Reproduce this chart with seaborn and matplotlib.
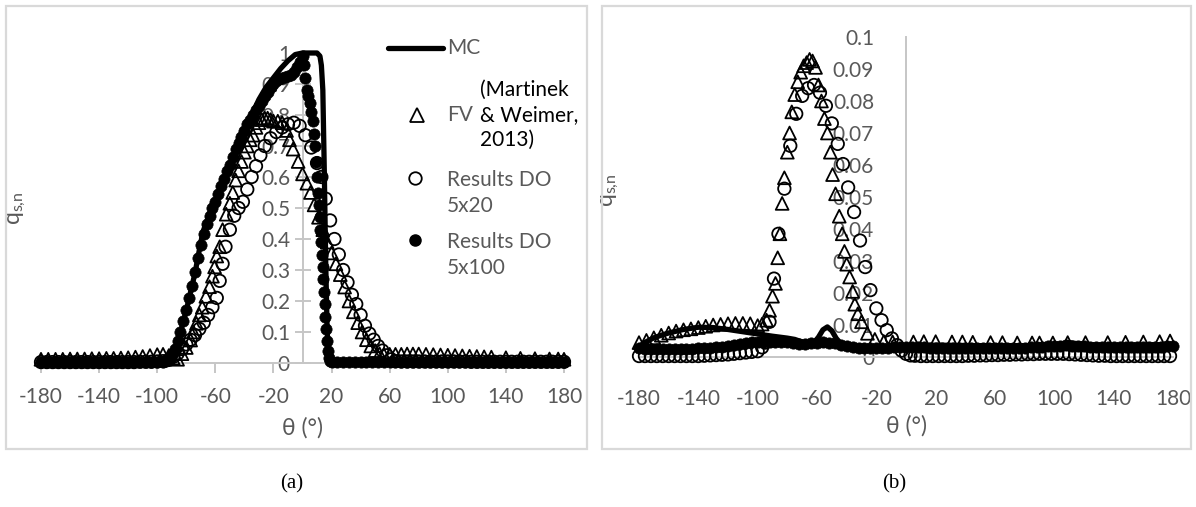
import numpy as np
import matplotlib
matplotlib.use('Agg')
import matplotlib.pyplot as plt
import seaborn as sns
from matplotlib.patches import Rectangle
from matplotlib.lines import Line2D

# ---------------- data, panel (a) ----------------
mc_a_theta = [-180, -160, -140, -120, -105, -97, -93, -90, -88, -86, -84, -82, -80, -78, -76, -74, -72,
              -70, -68, -66, -63, -60, -55, -50, -45, -40, -35, -30, -25, -20, -15, -10, -5, 0, 5, 10,
              12, 13, 14, 15, 16, 17, 18, 19, 21, 30, 60, 100, 140, 180]
mc_a_q = [0.005, 0.005, 0.005, 0.006, 0.008, 0.012, 0.02, 0.03, 0.045, 0.07, 0.10, 0.135, 0.17, 0.21,
          0.25, 0.29, 0.34, 0.39, 0.43, 0.455, 0.49, 0.52, 0.58, 0.64, 0.70, 0.75, 0.80, 0.85, 0.89,
          0.92, 0.95, 0.975, 0.995, 1.0, 1.0, 1.0, 0.99, 0.96, 0.88, 0.62, 0.32, 0.10, 0.025, 0.008,
          0.005, 0.004, 0.004, 0.004, 0.004, 0.004]

fv_a_theta = [-180, -175, -170, -165, -160, -155, -150, -145, -140, -135, -130, -125, -120, -115, -110,
              -105, -100, -96, -92, -89, -86, -83, -80, -77, -75, -73, -71, -69, -66.5, -64, -62, -60.5,
              -59, -57, -55, -52.5, -50, -48, -46, -44, -42, -40, -38, -36, -34, -32, -30, -28, -26, -24,
              -22, -20, -17, -14, -11, -9, -6.5, -3, 0, 3, 5.5, 8, 11, 14, 17, 20, 23, 26, 29, 32, 35,
              38, 41, 44, 47, 50, 53, 56, 60, 64, 68, 72, 76, 80, 85, 90, 95, 100, 105, 110, 115, 120,
              125, 130, 140, 150, 160, 170, 176, 180]
fv_a_q = [0.012, 0.012, 0.012, 0.012, 0.013, 0.013, 0.013, 0.014, 0.014, 0.015, 0.015, 0.016, 0.017,
          0.019, 0.021, 0.024, 0.027, 0.028, 0.024, 0.016, 0.012, 0.03, 0.05, 0.074, 0.10, 0.128, 0.155,
          0.18, 0.215, 0.246, 0.28, 0.31, 0.345, 0.375, 0.43, 0.48, 0.515, 0.55, 0.59, 0.62, 0.65, 0.68,
          0.70, 0.72, 0.735, 0.76, 0.775, 0.785, 0.79, 0.79, 0.785, 0.78, 0.78, 0.775, 0.75, 0.72, 0.69,
          0.65, 0.61, 0.58, 0.55, 0.51, 0.47, 0.43, 0.39, 0.355, 0.32, 0.285, 0.245, 0.20, 0.165, 0.13,
          0.10, 0.075, 0.055, 0.04, 0.03, 0.027, 0.028, 0.028, 0.028, 0.029, 0.029, 0.029, 0.028, 0.027,
          0.026, 0.025, 0.024, 0.023, 0.022, 0.021, 0.020, 0.019, 0.017, 0.015, 0.014, 0.013, 0.013,
          0.012]

do20_a_theta = [-180, -176, -172, -168, -164, -160, -156, -152, -148, -144, -140, -136, -132, -128, -124,
                -120, -116, -112, -108, -104, -100, -96, -92, -89, -86, -83, -80, -77, -74, -71, -68,
                -65, -62, -59, -57, -55, -53, -50, -47, -44, -41, -38, -35, -32, -29, -26, -22, -18,
                -14, -10, -6, -2, 2, 6, 10, 13, 16, 19, 22, 25, 28, 31, 34, 37, 40, 43, 46, 49, 52, 55,
                58, 61, 64, 68, 72, 76, 80, 84, 88, 92, 96, 100, 104, 108, 112, 116, 120, 124, 128, 132,
                136, 140, 144, 148, 152, 156, 160, 164, 168, 172, 176, 180]
do20_a_q = [0.003, 0.003, 0.003, 0.003, 0.003, 0.003, 0.003, 0.003, 0.003, 0.003, 0.003, 0.003, 0.003,
            0.003, 0.003, 0.003, 0.003, 0.004, 0.004, 0.004, 0.005, 0.006, 0.01, 0.02, 0.03, 0.045,
            0.06, 0.075, 0.09, 0.11, 0.13, 0.155, 0.18, 0.21, 0.265, 0.32, 0.375, 0.43, 0.475, 0.50,
            0.52, 0.56, 0.60, 0.635, 0.67, 0.70, 0.725, 0.745, 0.76, 0.77, 0.775, 0.765, 0.735, 0.695,
            0.645, 0.60, 0.53, 0.46, 0.40, 0.35, 0.30, 0.26, 0.22, 0.19, 0.155, 0.12, 0.095, 0.075,
            0.055, 0.04, 0.025, 0.012, 0.006, 0.005, 0.005, 0.005, 0.005, 0.005, 0.005, 0.005, 0.005,
            0.005, 0.005, 0.005, 0.005, 0.004, 0.004, 0.004, 0.004, 0.004, 0.004, 0.004, 0.004, 0.004,
            0.004, 0.004, 0.004, 0.004, 0.004, 0.004, 0.004, 0.004]

do100_a_theta = [-180, -176, -172, -168, -164, -160, -156, -152, -148, -144, -140, -136, -132, -128,
                 -124, -120, -116, -112, -108, -104, -100, -96, -94, -92, -90, -88, -86, -84, -82, -80,
                 -78, -76, -74, -72, -70, -68, -66, -64, -62, -60, -58, -56, -54, -52, -50, -48, -46,
                 -44, -42, -40, -38, -36, -34, -32, -30, -28, -26, -24, -22, -20, -18, -16, -14, -12,
                 -10, -8, -6, -4, -2, 0, 1, 2, 3, 4, 5, 6, 7, 8, 8.7, 9.3, 10, 10.6, 11.2, 11.8, 12.3,
                 12.8, 13.3, 13.8, 14.3, 14.8, 15.3, 15.8, 16.3, 16.8, 17.3, 18, 19, 20, 24, 28, 32, 36,
                 40, 44, 48, 52, 56, 60, 64, 68, 72, 76, 80, 84, 88, 92, 96, 100, 104, 108, 112, 116, 120,
                 124, 128, 132, 136, 140, 144, 148, 152, 156, 160, 164, 168, 172, 176, 180]
do100_a_q = [0.003, 0.003, 0.003, 0.003, 0.003, 0.003, 0.003, 0.003, 0.003, 0.003, 0.003, 0.003, 0.003,
             0.003, 0.003, 0.003, 0.003, 0.003, 0.003, 0.003, 0.003, 0.004, 0.008, 0.015, 0.03, 0.045,
             0.07, 0.10, 0.135, 0.17, 0.21, 0.25, 0.295, 0.34, 0.38, 0.415, 0.45, 0.475, 0.50, 0.52,
             0.545, 0.57, 0.595, 0.62, 0.64, 0.665, 0.69, 0.71, 0.73, 0.75, 0.77, 0.785, 0.80, 0.815,
             0.83, 0.845, 0.86, 0.875, 0.89, 0.90, 0.91, 0.915, 0.92, 0.922, 0.925, 0.93, 0.94, 0.955,
             0.97, 0.99, 0.96, 0.92, 0.88, 0.86, 0.84, 0.81, 0.78, 0.74, 0.70, 0.65, 0.60, 0.55, 0.51,
             0.47, 0.43, 0.39, 0.35, 0.31, 0.27, 0.23, 0.19, 0.15, 0.11, 0.07, 0.04, 0.015, 0.005,
             0.003, 0.003, 0.003, 0.003, 0.003, 0.003, 0.003, 0.003, 0.003, 0.003, 0.003, 0.003, 0.003,
             0.003, 0.003, 0.003, 0.003, 0.003, 0.003, 0.003, 0.003, 0.003, 0.003, 0.003, 0.003, 0.003,
             0.003, 0.003, 0.003, 0.003, 0.003, 0.003, 0.003, 0.003, 0.003, 0.003, 0.003, 0.003, 0.003,
             0.003, 0.003]

# ---------------- data, panel (b) ----------------
mc_b_theta = [-180, -175, -170, -165, -160, -150, -140, -130, -120, -110, -100, -90, -80, -75, -70, -66,
              -62, -59, -56, -53, -50, -47, -44, -40, -30, -20, -10, 0, 10, 20, 40, 60, 80, 95, 105,
              110, 115, 125, 140, 160, 180]
mc_b_q = [0.0033, 0.0048, 0.006, 0.0068, 0.0075, 0.0086, 0.0093, 0.0092, 0.0086, 0.0079, 0.0072, 0.0065,
          0.0059, 0.0055, 0.0047, 0.0042, 0.0045, 0.0062, 0.0085, 0.0094, 0.0082, 0.0058, 0.0042,
          0.0034, 0.003, 0.0029, 0.003, 0.0033, 0.0036, 0.0037, 0.0036, 0.0035, 0.0035, 0.0037, 0.0041,
          0.0045, 0.0042, 0.0038, 0.0036, 0.0037, 0.004]

fv_b_theta = [-180, -175, -170, -165, -160, -155, -150, -145, -140, -135, -130, -125, -120, -115, -110,
              -105, -100, -97, -94, -92, -90, -88, -86.5, -85, -83.5, -82, -80, -78.5, -77, -75, -73,
              -71, -69, -67, -65, -63, -61, -59, -57, -55, -53, -51, -49.5, -47.5, -45, -43, -41.5, -40,
              -38, -36, -34.5, -32.5, -30, -26, -21, -15, -9, 5, 12, 20, 31, 38, 45, 57, 65, 75, 85, 90,
              99, 109, 121, 136, 148, 160, 171, 178]
fv_b_q = [0.0045, 0.0052, 0.006, 0.0068, 0.0075, 0.0081, 0.0085, 0.0088, 0.0092, 0.0096, 0.010, 0.0102,
          0.0104, 0.0105, 0.0105, 0.0104, 0.0098, 0.0103, 0.0115, 0.0146, 0.019, 0.023, 0.031, 0.0385,
          0.048, 0.056, 0.064, 0.070, 0.0766, 0.082, 0.086, 0.089, 0.091, 0.092, 0.093, 0.0925, 0.0905,
          0.085, 0.080, 0.0745, 0.070, 0.064, 0.057, 0.051, 0.044, 0.0385, 0.033, 0.029, 0.025, 0.0205,
          0.0165, 0.0135, 0.011, 0.0074, 0.0055, 0.0048, 0.0047, 0.0047, 0.0048, 0.0048, 0.0047,
          0.0047, 0.0046, 0.0045, 0.0045, 0.0044, 0.0044, 0.0044, 0.0044, 0.0045, 0.0045, 0.0045,
          0.0046, 0.0047, 0.0048, 0.005]

do20_b_theta = [-180, -176, -172, -168, -164, -160, -156, -152, -148, -144, -140, -136, -132, -128, -124,
                -120, -116, -112, -108, -104, -100, -97, -95, -92, -89, -86, -82, -78, -74, -70, -66,
                -62, -58, -54, -50, -46, -42.5, -39, -35, -31, -27.5, -24, -20, -16.5, -13, -9.5, -6,
                -3, 0, 3, 6, 10, 14, 18, 22, 26, 30, 34, 38, 42, 46, 50, 54, 58, 62, 66, 70, 74, 78, 82,
                86, 90, 94, 98, 102, 106, 110, 114, 118, 122, 126, 130, 134, 138, 142, 146, 150, 154,
                158, 162, 166, 170, 174, 178]
do20_b_q = [0.0003, 0.0003, 0.0003, 0.0003, 0.0003, 0.0003, 0.0003, 0.0003, 0.0003, 0.0003, 0.0003,
            0.0004, 0.0005, 0.0006, 0.0007, 0.0008, 0.001, 0.0012, 0.0014, 0.0016, 0.0018, 0.003,
            0.0045, 0.011, 0.0245, 0.0385, 0.0526, 0.066, 0.076, 0.0816, 0.084, 0.085, 0.0826, 0.0785,
            0.073, 0.0666, 0.0603, 0.053, 0.0453, 0.0364, 0.0281, 0.0209, 0.0152, 0.0115, 0.0084,
            0.0058, 0.0037, 0.002, 0.001, 0.0005, 0.0004, 0.0003, 0.0003, 0.0003, 0.0003, 0.0003,
            0.0003, 0.0003, 0.0003, 0.0004, 0.0004, 0.0005, 0.0005, 0.0006, 0.0006, 0.0007, 0.0007,
            0.0008, 0.0008, 0.0009, 0.0009, 0.001, 0.001, 0.001, 0.001, 0.001, 0.0009, 0.0008, 0.0007,
            0.0006, 0.0005, 0.0004, 0.0004, 0.0003, 0.0003, 0.0003, 0.0003, 0.0003, 0.0003, 0.0003,
            0.0003, 0.0003, 0.0003, 0.0003]

do100_b_theta = [-180, -176, -172, -168, -164, -160, -156, -152, -148, -144, -140, -136, -132, -128,
                 -124, -120, -116, -112, -108, -104, -100, -96, -92, -88, -84, -80, -76, -72, -68, -64,
                 -60, -56, -52, -48, -44, -40, -36, -32, -28, -24, -20, -16, -12, -8, -4, 0, 4, 8, 12,
                 16, 20, 24, 28, 32, 36, 40, 44, 48, 52, 56, 60, 64, 68, 72, 76, 80, 84, 88, 92, 96, 100,
                 104, 108, 112, 116, 120, 124, 128, 132, 136, 140, 144, 148, 152, 156, 160, 164, 168, 172,
                 176, 180]
do100_b_q = [0.0028, 0.0026, 0.0025, 0.0025, 0.0025, 0.0025, 0.0025, 0.0025, 0.0026, 0.0026, 0.0027,
             0.0028, 0.0029, 0.003, 0.0032, 0.0034, 0.0037, 0.004, 0.0043, 0.0046, 0.0047, 0.0048,
             0.0048, 0.0048, 0.0047, 0.0046, 0.0044, 0.0042, 0.0042, 0.0043, 0.0045, 0.0046, 0.0045,
             0.0043, 0.0038, 0.0034, 0.0031, 0.0029, 0.0028, 0.0027, 0.0027, 0.0028, 0.0029, 0.003,
             0.0031, 0.0032, 0.0032, 0.0031, 0.003, 0.0029, 0.0028, 0.0028, 0.0027, 0.0027, 0.0027,
             0.0027, 0.0027, 0.0027, 0.0027, 0.0027, 0.0027, 0.0027, 0.0027, 0.0028, 0.0028, 0.0029,
             0.003, 0.0031, 0.0032, 0.0033, 0.0034, 0.0035, 0.0036, 0.0035, 0.0034, 0.0033, 0.0032,
             0.0031, 0.003, 0.003, 0.003, 0.003, 0.003, 0.003, 0.003, 0.0031, 0.0031, 0.0032, 0.0032,
             0.0033, 0.0034]

x_ticks = [-180, -140, -100, -60, -20, 20, 60, 100, 140, 180]
y_ticks_a = [0, 0.1, 0.2, 0.3, 0.4, 0.5, 0.6, 0.7, 0.8, 0.9, 1]
y_ticks_b = [0, 0.01, 0.02, 0.03, 0.04, 0.05, 0.06, 0.07, 0.08, 0.09, 0.1]

# ---------------- style ----------------
sns.set_theme(style='white')
plt.rcParams['font.family'] = ['Lato', 'DejaVu Sans']
plt.rcParams['mathtext.default'] = 'regular'

GREY = '#595959'
AXIS = '#c6c6c6'
W, H = 1196, 507

fig = plt.figure(figsize=(W / 100, H / 100), dpi=100)


def box(x0, y0, x1, y1):
    # pixel box (origin top left) -> figure fraction [left, bottom, width, height]
    return [x0 / W, 1 - y1 / H, (x1 - x0) / W, (y1 - y0) / H]


def fx(x, y):
    return x / W, 1 - y / H


# chart-area borders
for x0, x1 in [(6, 587), (602, 1191)]:
    fig.add_artist(Rectangle(fx(x0, 449), (x1 - x0) / W, 443 / H, transform=fig.transFigure,
                             fill=False, edgecolor='#d9d9d9', linewidth=1.6))

ax_a = fig.add_axes(box(41, 53, 564, 363))
ax_b = fig.add_axes(box(639, 37, 1173, 357))


def draw(ax, mc_t, mc_q, fv_t, fv_q, d20_t, d20_q, d100_t, d100_q):
    sns.lineplot(x=mc_t, y=mc_q, sort=False, estimator=None, color='black', linewidth=3.8,
                 ax=ax, zorder=3, clip_on=False)
    sns.scatterplot(x=fv_t, y=fv_q, marker='^', s=85, facecolor='none', edgecolor='black',
                    linewidth=1.3, ax=ax, zorder=4, clip_on=False)
    sns.scatterplot(x=d20_t, y=d20_q, marker='o', s=80, facecolor='none', edgecolor='black',
                    linewidth=1.3, ax=ax, zorder=5, clip_on=False)
    sns.scatterplot(x=d100_t, y=d100_q, marker='o', s=66, color='black', edgecolor='black',
                    linewidth=0.5, ax=ax, zorder=6, clip_on=False)


draw(ax_a, mc_a_theta, mc_a_q, fv_a_theta, fv_a_q, do20_a_theta, do20_a_q, do100_a_theta, do100_a_q)
draw(ax_b, mc_b_theta, mc_b_q, fv_b_theta, fv_b_q, do20_b_theta, do20_b_q, do100_b_theta, do100_b_q)

for ax, yt in [(ax_a, y_ticks_a), (ax_b, y_ticks_b)]:
    ax.set_xlim(-180, 180)
    ax.set_ylim(0, yt[-1])
    ax.set_facecolor('none')
    ax.spines['top'].set_visible(False)
    ax.spines['right'].set_visible(False)
    ax.spines['left'].set_position(('data', 0))
    for s in ['left', 'bottom']:
        ax.spines[s].set_color(AXIS)
        ax.spines[s].set_linewidth(1.4)
        ax.spines[s].set_zorder(1)
    ax.set_xticks(x_ticks)
    ax.set_xticklabels([str(v) for v in x_ticks])
    ax.set_yticks(yt)
    ax.set_yticklabels(['{:g}'.format(round(v, 2)) for v in yt])
    ax.set_xlabel('θ (°)', color=GREY, fontsize=16.5)
    ax.set_ylabel('q$_{s{,}n}$', color=GREY, fontsize=16.5)

ax_a.tick_params(axis='x', bottom=True, length=7, width=1.4, color=AXIS, direction='out',
                 labelsize=15, labelcolor=GREY, pad=10)
ax_a.tick_params(axis='y', left=True, length=12, width=1.4, color=AXIS, direction='inout',
                 labelsize=15, labelcolor=GREY, pad=3)
ax_b.tick_params(axis='x', bottom=False, labelsize=15, labelcolor=GREY, pad=17)
ax_b.tick_params(axis='y', left=False, labelsize=15, labelcolor=GREY, pad=17)

ax_a.xaxis.set_label_coords(0.5, (363 - 417) / 310)
ax_a.yaxis.set_label_coords((28 - 41) / 523, 0.5)
ax_b.xaxis.set_label_coords(0.5, (357 - 415) / 320)
ax_b.yaxis.set_label_coords((621 - 639) / 534, 0.52)

# legend of panel (a), laid out like the original
fig.add_artist(Line2D([388 / W, 443 / W], [1 - 48 / H] * 2, transform=fig.transFigure,
                      color='black', linewidth=3.8))
fig.text(*fx(447, 48), 'MC', color=GREY, fontsize=15, va='center')
fig.add_artist(Line2D([417 / W], [1 - 115 / H], transform=fig.transFigure, marker='^',
                      markersize=9.5, markerfacecolor='none', markeredgecolor='black',
                      markeredgewidth=1.3, linestyle='none'))
fig.text(*fx(447, 115), 'FV', color=GREY, fontsize=15, va='center')
fig.text(*fx(480, 115), '(Martinek\n& Weimer,\n2013)', color='black', fontsize=15, va='center',
         linespacing=1.3)
fig.add_artist(Line2D([415 / W], [1 - 178 / H], transform=fig.transFigure, marker='o',
                      markersize=9, markerfacecolor='none', markeredgecolor='black',
                      markeredgewidth=1.3, linestyle='none'))
fig.text(*fx(447, 193), 'Results DO\n5x20', color=GREY, fontsize=15, va='center', linespacing=1.4)
fig.add_artist(Line2D([415 / W], [1 - 240 / H], transform=fig.transFigure, marker='o',
                      markersize=8, markerfacecolor='black', markeredgecolor='black',
                      linestyle='none'))
fig.text(*fx(447, 255), 'Results DO\n5x100', color=GREY, fontsize=15, va='center', linespacing=1.4)

# sub-figure captions
fig.text(*fx(292, 484), '(a)', family='Liberation Serif', fontsize=15, ha='center', va='center',
         color='black')
fig.text(*fx(894, 484), '(b)', family='Liberation Serif', fontsize=15, ha='center', va='center',
         color='black')

fig.savefig('out.png', dpi=100)
